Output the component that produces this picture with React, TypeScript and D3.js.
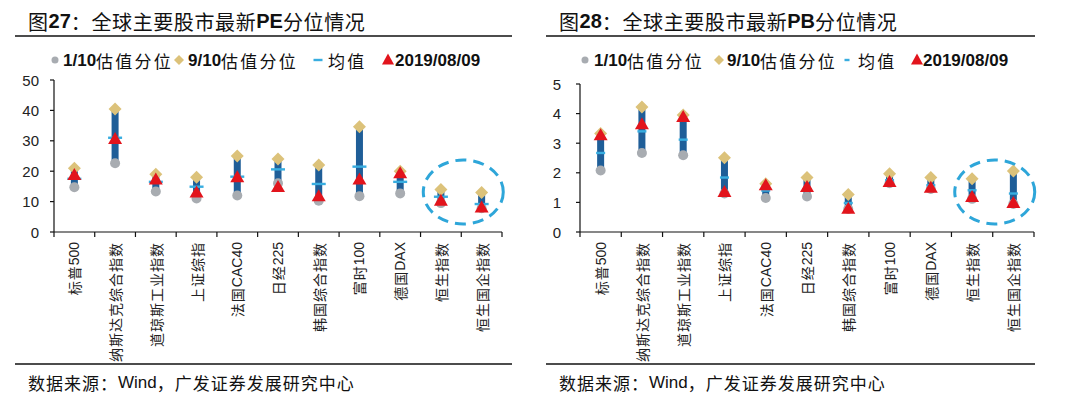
import * as d3 from "d3";

// 11 indices, same order in both panels
const CATEGORIES = [
  "标普500", "纳斯达克综合指数", "道琼斯工业指数", "上证综指", "法国CAC40", "日经225",
  "韩国综合指数", "富时100", "德国DAX", "恒生指数", "恒生国企指数",
];

// PE: 1/10 quantile, 9/10 quantile, mean, latest (2019/08/09)
const PE_LOW = [14.7, 22.6, 13.3, 11.0, 12.0, 16.0, 10.3, 11.8, 12.7, 9.5, 7.8];
const PE_HIGH = [21.0, 40.5, 19.0, 18.0, 25.0, 24.0, 22.0, 34.6, 20.0, 14.0, 13.0];
const PE_MEAN = [17.5, 31.0, 16.5, 14.9, 18.2, 20.6, 15.8, 21.5, 16.5, 11.6, 9.2];
const PE_NOW = [18.8, 30.6, 17.3, 13.0, 18.0, 14.8, 11.8, 17.3, 19.3, 10.3, 8.1];
const PE_TICKS = [0, 10, 20, 30, 40, 50];

// PB
const PB_LOW = [2.08, 2.67, 2.59, 1.3, 1.15, 1.2, 0.78, 1.65, 1.45, 1.12, 0.95];
const PB_HIGH = [3.33, 4.22, 3.95, 2.51, 1.63, 1.84, 1.27, 1.97, 1.84, 1.8, 2.06];
const PB_MEAN = [2.67, 3.4, 3.12, 1.84, 1.4, 1.45, 0.98, 1.75, 1.58, 1.41, 1.3];
const PB_NOW = [3.27, 3.64, 3.89, 1.35, 1.58, 1.52, 0.79, 1.69, 1.5, 1.18, 0.98];
const PB_TICKS = [0, 1, 2, 3, 4, 5];

const LEGEND_LABELS = ["1/10估值分位", "9/10估值分位", "均值", "2019/08/09"];
const SOURCE = "数据来源：Wind，广发证券发展研究中心";

const CJK = '"Noto Sans CJK SC", "Noto Sans", sans-serif';
const LATIN = '"Liberation Sans", Arial, sans-serif';

const COLORS = {
  bar: "#1f5e98",
  low: "#a8acb1",
  high: "#dcc27a",
  mean: "#38ade0",
  now: "#e2141c",
  ring: "#2ea6d9",
};

const AXIS_Y = 232;

// split text into latin runs and cjk runs so each can get its own font
const splitRuns = (s: string) => s.match(/[A-Za-z0-9/]+|[^A-Za-z0-9/]+/g) || [];
const isLatin = (s: string) => /^[A-Za-z0-9/]+$/.test(s);

const Runs = ({ text, bold, cjkSpacing = 0 }: any) => (
  <>
    {splitRuns(text).map((r, i) =>
      isLatin(r) ? (
        <tspan key={i} fontFamily={LATIN} fontWeight={bold ? "bold" : "normal"}>{r}</tspan>
      ) : (
        <tspan key={i} fontFamily={CJK} letterSpacing={cjkSpacing}>{r}</tspan>
      )
    )}
  </>
);

const MixedText = ({ x, y, text, size, bold, cjkSpacing = 0 }: any) => (
  <text x={x} y={y} fontSize={size} dominantBaseline="central" fill="#111">
    <Runs text={text} bold={bold} cjkSpacing={cjkSpacing} />
  </text>
);

// whole label turned -90deg, reading bottom to top, its end just under the axis
const AxisLabel = ({ cx, top, label }: { cx: number; top: number; label: string }) => (
  <g transform={`translate(${cx},${top})`}>
    <text transform="rotate(-90)" textAnchor="end" dominantBaseline="central" fontSize={14} fill="#222">
      <Runs text={label} cjkSpacing={1} />
    </text>
  </g>
);

const triangle = (cx: number, cy: number, w: number, h: number) =>
  `M${cx},${cy - h * 0.58}L${cx + w / 2},${cy + h * 0.42}L${cx - w / 2},${cy + h * 0.42}Z`;
const diamond = (cx: number, cy: number, r: number) =>
  `M${cx},${cy - r}L${cx + r},${cy}L${cx},${cy + r}L${cx - r},${cy}Z`;

type Layout = {
  left: number; // panel left edge (rules)
  right: number;
  axisX: number;
  axisEnd: number;
  yTop: number;
  tickLabelX: number;
  legendX: number[];
  meanW: number;
  legendDashW: number;
  ring: { rx: number; ry: number; cy: number; dx: number };
};

type PanelProps = {
  layout: Layout;
  title: string;
  ticks: number[];
  low: number[];
  high: number[];
  mean: number[];
  now: number[];
};

const Panel = ({ layout, title, ticks, low, high, mean, now }: PanelProps) => {
  const xScale = d3.scaleBand().domain(CATEGORIES).range([layout.axisX, layout.axisEnd]);
  const yScale = d3.scaleLinear().domain([0, ticks[ticks.length - 1]]).range([AXIS_Y, layout.yTop]);
  const bw = xScale.bandwidth();
  const center = (c: string) => (xScale(c) || 0) + bw / 2;
  const lx = layout.legendX;

  const ringCx = (center(CATEGORIES[9]) + center(CATEGORIES[10])) / 2 + layout.ring.dx;

  return (
    <g>
      {/* title + rules */}
      <MixedText x={layout.left + 13} y={21} text={title} size={20} bold cjkSpacing={0.6} />
      <line x1={layout.left} x2={layout.right} y1={36} y2={36} stroke="#111" strokeWidth={1.5} />
      <line x1={layout.left} x2={layout.right} y1={364} y2={364} stroke="#111" strokeWidth={1.3} />
      <MixedText x={layout.left + 13} y={382} text={SOURCE} size={17} cjkSpacing={1} />

      {/* legend */}
      <circle cx={lx[0]} cy={60} r={3.5} fill={COLORS.low} />
      <MixedText x={lx[1]} y={60} text={LEGEND_LABELS[0]} size={17} bold cjkSpacing={2.2} />
      <path d={diamond(lx[2], 60, 5)} fill={COLORS.high} />
      <MixedText x={lx[3]} y={60} text={LEGEND_LABELS[1]} size={17} bold cjkSpacing={2.2} />
      <rect x={lx[4] - layout.legendDashW / 2} y={58.8} width={layout.legendDashW} height={2.4} fill={COLORS.mean} />
      <MixedText x={lx[5]} y={60} text={LEGEND_LABELS[2]} size={17} bold cjkSpacing={2.2} />
      <path d={triangle(lx[6], 60, 12, 11)} fill={COLORS.now} />
      <MixedText x={lx[7]} y={60} text={LEGEND_LABELS[3]} size={17} bold />

      {/* y axis */}
      <line x1={layout.axisX} x2={layout.axisX} y1={yScale(ticks[ticks.length - 1])} y2={AXIS_Y} stroke="#111" strokeWidth={1.2} />
      {ticks.map((t) => (
        <g key={t}>
          <line x1={layout.axisX - 4} x2={layout.axisX} y1={yScale(t)} y2={yScale(t)} stroke="#111" strokeWidth={1.2} />
          <text x={layout.tickLabelX} y={yScale(t)} textAnchor="end" dominantBaseline="central"
            fontFamily={LATIN} fontSize={15} fill="#222">{t}</text>
        </g>
      ))}

      {/* x axis */}
      <line x1={layout.axisX} x2={layout.axisEnd} y1={AXIS_Y} y2={AXIS_Y} stroke="#111" strokeWidth={1.2} />
      {CATEGORIES.map((c) => (
        <line key={c} x1={xScale(c)} x2={xScale(c)} y1={AXIS_Y} y2={AXIS_Y + 5} stroke="#111" strokeWidth={1.2} />
      ))}
      <line x1={layout.axisEnd} x2={layout.axisEnd} y1={AXIS_Y} y2={AXIS_Y + 5} stroke="#111" strokeWidth={1.2} />
      {CATEGORIES.map((c) => (
        <AxisLabel key={c} cx={center(c)} top={AXIS_Y + 10} label={c} />
      ))}

      {/* marks */}
      {CATEGORIES.map((c, i) => {
        const cx = center(c);
        return (
          <g key={c}>
            <rect x={cx - 3.5} y={yScale(high[i])} width={7} height={yScale(low[i]) - yScale(high[i])} fill={COLORS.bar} />
            <circle cx={cx} cy={yScale(low[i])} r={5} fill={COLORS.low} />
            <path d={diamond(cx, yScale(high[i]), 6.5)} fill={COLORS.high} />
            <rect x={cx - layout.meanW / 2} y={yScale(mean[i]) - 1.2} width={layout.meanW} height={2.4} fill={COLORS.mean} />
            <path d={triangle(cx, yScale(now[i]), 14, 12)} fill={COLORS.now} />
          </g>
        );
      })}

      <ellipse cx={ringCx} cy={layout.ring.cy} rx={layout.ring.rx} ry={layout.ring.ry}
        fill="none" stroke={COLORS.ring} strokeWidth={3} strokeDasharray="11 7" />
    </g>
  );
};

const LEFT: Layout = {
  left: 15, right: 512, axisX: 54, axisEnd: 502, yTop: 80, tickLabelX: 39,
  legendX: [55, 63, 179, 188, 318, 328, 388, 395], meanW: 14, legendDashW: 9,
  ring: { rx: 40, ry: 32, cy: 192, dx: 2 },
};
const RIGHT: Layout = {
  left: 546, right: 1035, axisX: 580, axisEnd: 1034, yTop: 84, tickLabelX: 561,
  legendX: [585, 594, 719, 727, 847, 858, 917, 923], meanW: 9, legendDashW: 5,
  ring: { rx: 40, ry: 32, cy: 192, dx: 2 },
};

export default function App() {
  return (
    <svg width={1069} height={397} style={{ position: "absolute", left: 0, top: 0, background: "#fff" }}>
      <Panel layout={LEFT} title="图27：全球主要股市最新PE分位情况" ticks={PE_TICKS}
        low={PE_LOW} high={PE_HIGH} mean={PE_MEAN} now={PE_NOW} />
      <Panel layout={RIGHT} title="图28：全球主要股市最新PB分位情况" ticks={PB_TICKS}
        low={PB_LOW} high={PB_HIGH} mean={PB_MEAN} now={PB_NOW} />
    </svg>
  );
}
